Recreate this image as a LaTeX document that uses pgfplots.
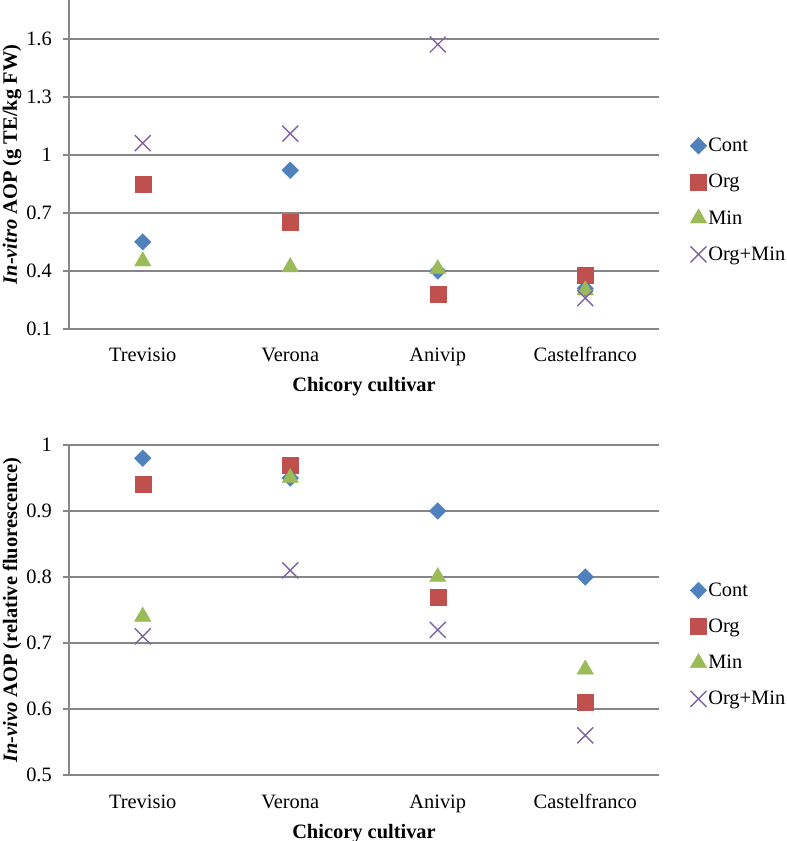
\documentclass[border=0pt]{standalone}
\usepackage{fontspec}
\setmainfont{Liberation Serif}
\usepackage{pgfplots}
\pgfplotsset{compat=1.18}

\definecolor{cont}{HTML}{4F81BD}
\definecolor{org}{HTML}{C0504D}
\definecolor{mine}{HTML}{9BBB59}
\definecolor{orgmin}{HTML}{8064A2}
\definecolor{gridgray}{HTML}{868686}

\pgfplotsset{
  chic/.style={
    scale only axis,
    width=590bp,
    anchor=south west,
    xmin=-0.5, xmax=3.5,
    xtick={0,1,2,3},
    xticklabels={Trevisio,Verona,Anivip,Castelfranco},
    axis x line*=bottom,
    axis y line*=left,
    axis line style={-, draw=gridgray, line width=1.7bp},
    x tick style={draw=none},
    y tick style={draw=gridgray, line width=1.7bp},
    tick align=outside,
    major tick length=6bp,
    ymajorgrids,
    grid style={draw=gridgray, line width=1.7bp},
    /pgf/number format/assume math mode=true,
    tick label style={font=\fontsize{20.5}{24}\selectfont},
    xticklabel style={anchor=base, yshift=-27bp},
    yticklabel style={anchor=east, inner sep=0pt, xshift=-11bp},
    every axis x label/.style={at={(axis description cs:0.5,0)}, anchor=base, yshift=-63bp,
      font=\fontsize{20.5}{24}\selectfont\bfseries},
    every axis y label/.style={at={(axis description cs:-0.0966,0.5)}, rotate=90, anchor=center,
      font=\fontsize{20.5}{24}\selectfont\bfseries},
    xlabel={Chicory cultivar},
    legend style={draw=none, fill=none, anchor=west, xshift=31bp, inner sep=0pt,
      font=\fontsize{20.5}{24}\selectfont, row sep=18bp, nodes={inner sep=1.5bp}},
    legend cell align=left,
    legend image code/.code={\draw[mark repeat=2,mark phase=2,#1] plot coordinates {(0bp,0bp) (8bp,0bp) (16bp,0bp)};},
    clip=false,
  },
  pcont/.style={only marks, mark=diamond*, mark size=8.3bp, mark options={xscale=1.333, draw=cont, fill=cont}},
  porg/.style={only marks, mark=square*, mark size=8bp, mark options={draw=org, fill=org}},
  pmin/.style={only marks, mark=triangle*, mark size=9.5bp, mark options={draw=mine, fill=mine}},
  porgmin/.style={only marks, mark=x, mark size=11.3bp, mark options={draw=orgmin, line width=1.4bp}},
}

\begin{document}
\begin{tikzpicture}[x=1bp,y=1bp]
\useasboundingbox (0,0) rectangle (787,841);

% in-vitro panel
\begin{axis}[chic, at={(69bp,512bp)}, height=329bp,
  ymin=0.1, ymax=1.8, ytick={0.1,0.4,0.7,1,1.3,1.6},
  ylabel={\textit{In-vitro} AOP (g TE/kg FW)},
  legend style={at={(1,0.392)}}]
\addplot[pcont] coordinates {(0,0.55) (1,0.92) (2,0.40) (3,0.31)};
\addlegendentry{Cont}
\addplot[porg] coordinates {(0,0.85) (1,0.65) (2,0.28) (3,0.38)};
\addlegendentry{Org}
\addplot[pmin] coordinates {(0,0.45) (1,0.42) (2,0.41) (3,0.30)};
\addlegendentry{Min}
\addplot[porgmin] coordinates {(0,1.06) (1,1.11) (2,1.57) (3,0.26)};
\addlegendentry{Org+Min}
\end{axis}

% in-vivo panel
\begin{axis}[chic, at={(69bp,66bp)}, height=330bp,
  ymin=0.5, ymax=1, ytick={0.5,0.6,0.7,0.8,0.9,1},
  ylabel={\textit{In-vivo} AOP (relative fluorescence)},
  legend style={at={(1,0.395)}}]
\addplot[pcont] coordinates {(0,0.98) (1,0.95) (2,0.90) (3,0.80)};
\addlegendentry{Cont}
\addplot[porg] coordinates {(0,0.94) (1,0.97) (2,0.77) (3,0.61)};
\addlegendentry{Org}
\addplot[pmin] coordinates {(0,0.74) (1,0.95) (2,0.80) (3,0.66)};
\addlegendentry{Min}
\addplot[porgmin] coordinates {(0,0.71) (1,0.81) (2,0.72) (3,0.56)};
\addlegendentry{Org+Min}
\end{axis}
\end{tikzpicture}
\end{document}
